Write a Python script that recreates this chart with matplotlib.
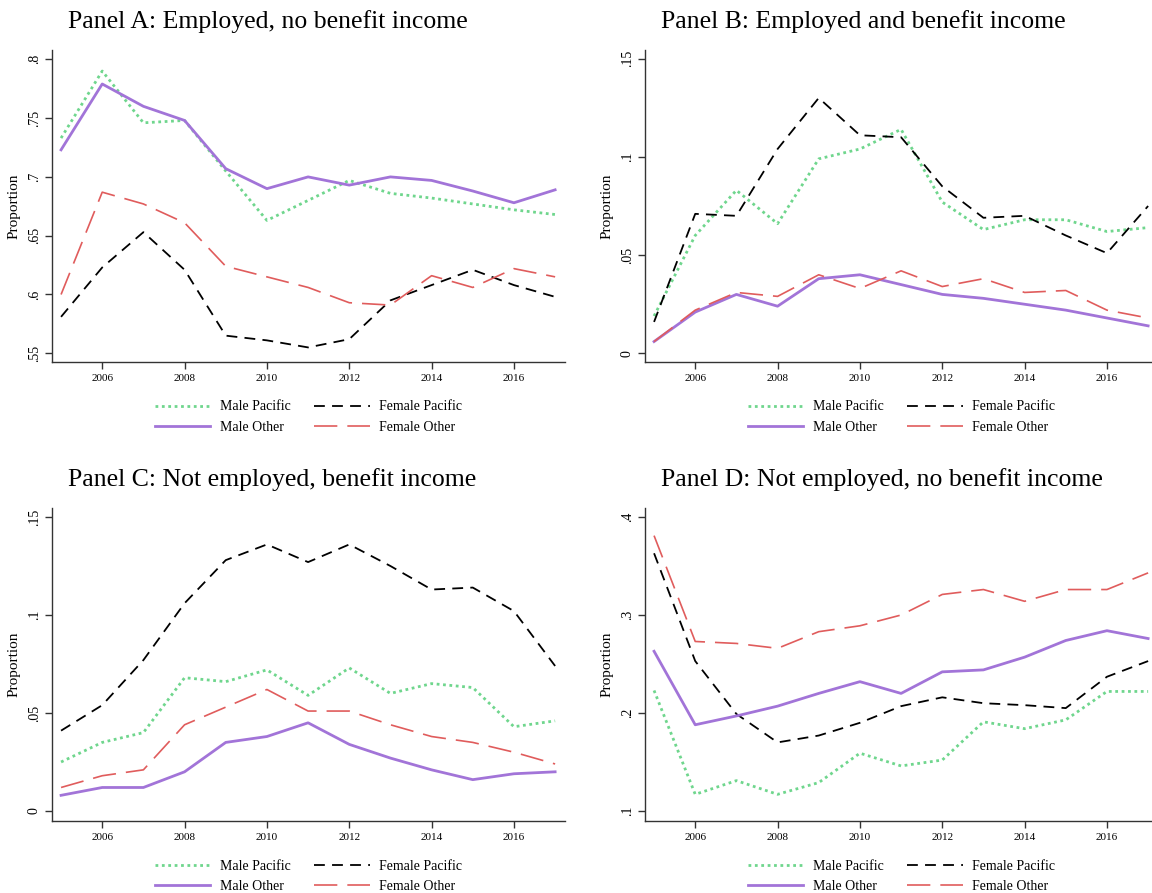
import numpy as np
import matplotlib
matplotlib.use("Agg")
import matplotlib.pyplot as plt

years = np.arange(2005, 2018)

# Panel A: Employed, no benefit income
a_male_pac = [0.733, 0.790, 0.746, 0.748, 0.705, 0.663, 0.680, 0.697, 0.686, 0.682, 0.677, 0.672, 0.668]
a_male_oth = [0.723, 0.779, 0.760, 0.748, 0.707, 0.690, 0.700, 0.693, 0.700, 0.697, 0.688, 0.678, 0.689]
a_fem_pac = [0.581, 0.623, 0.653, 0.621, 0.565, 0.561, 0.555, 0.562, 0.595, 0.608, 0.621, 0.608, 0.598]
a_fem_oth = [0.600, 0.687, 0.677, 0.661, 0.624, 0.615, 0.606, 0.593, 0.591, 0.616, 0.606, 0.622, 0.615]

# Panel B: Employed and benefit income
b_male_pac = [0.019, 0.060, 0.083, 0.066, 0.099, 0.104, 0.114, 0.077, 0.063, 0.068, 0.068, 0.062, 0.064]
b_male_oth = [0.006, 0.021, 0.030, 0.024, 0.038, 0.040, 0.035, 0.030, 0.028, 0.025, 0.022, 0.018, 0.014]
b_fem_pac = [0.016, 0.071, 0.070, 0.104, 0.130, 0.111, 0.110, 0.085, 0.069, 0.070, 0.060, 0.051, 0.075]
b_fem_oth = [0.006, 0.022, 0.031, 0.029, 0.040, 0.033, 0.042, 0.034, 0.038, 0.031, 0.032, 0.022, 0.018]

# Panel C: Not employed, benefit income
c_male_pac = [0.025, 0.035, 0.040, 0.068, 0.066, 0.072, 0.059, 0.073, 0.060, 0.065, 0.063, 0.043, 0.046]
c_male_oth = [0.008, 0.012, 0.012, 0.020, 0.035, 0.038, 0.045, 0.034, 0.027, 0.021, 0.016, 0.019, 0.020]
c_fem_pac = [0.041, 0.054, 0.077, 0.106, 0.128, 0.136, 0.127, 0.136, 0.125, 0.113, 0.114, 0.102, 0.074]
c_fem_oth = [0.012, 0.018, 0.021, 0.044, 0.053, 0.062, 0.051, 0.051, 0.044, 0.038, 0.035, 0.030, 0.024]

# Panel D: Not employed, no benefit income
d_male_pac = [0.223, 0.117, 0.131, 0.117, 0.129, 0.159, 0.146, 0.152, 0.191, 0.184, 0.193, 0.222, 0.222]
d_male_oth = [0.263, 0.188, 0.197, 0.207, 0.220, 0.232, 0.220, 0.242, 0.244, 0.257, 0.274, 0.284, 0.276]
d_fem_pac = [0.363, 0.253, 0.199, 0.170, 0.177, 0.190, 0.207, 0.216, 0.210, 0.208, 0.205, 0.237, 0.253]
d_fem_oth = [0.381, 0.273, 0.271, 0.266, 0.283, 0.289, 0.300, 0.321, 0.326, 0.314, 0.326, 0.326, 0.343]

titles = ["Panel A: Employed, no benefit income", "Panel B: Employed and benefit income",
          "Panel C: Not employed, benefit income", "Panel D: Not employed, no benefit income"]
panels = [
    (a_male_pac, a_fem_pac, a_male_oth, a_fem_oth),
    (b_male_pac, b_fem_pac, b_male_oth, b_fem_oth),
    (c_male_pac, c_fem_pac, c_male_oth, c_fem_oth),
    (d_male_pac, d_fem_pac, d_male_oth, d_fem_oth),
]
yticks = [[0.55, 0.6, 0.65, 0.7, 0.75, 0.8], [0, 0.05, 0.1, 0.15],
          [0, 0.05, 0.1, 0.15], [0.1, 0.2, 0.3, 0.4]]
ytick_labels = [[".55", ".6", ".65", ".7", ".75", ".8"], ["0", ".05", ".1", ".15"],
                ["0", ".05", ".1", ".15"], [".1", ".2", ".3", ".4"]]
ylims = [(0.5426, 0.8079), (-0.0044, 0.1544), (-0.0051, 0.1546), (0.0898, 0.4092)]

W, H = 1152, 893
# axes boxes in pixels: left, right, top, bottom
boxes = [(52, 565, 50, 362), (645, 1158, 50, 362), (52, 565, 508, 821), (645, 1158, 508, 821)]

plt.rcParams['font.family'] = ['Liberation Serif', 'DejaVu Serif']

fig = plt.figure(figsize=(W / 100, H / 100), dpi=100)

styles = [
    dict(color="#6fd68d", lw=2.0, ls=(0, (1, 1.3))),
    dict(color="black", lw=1.3, ls=(0, (6, 4))),
    dict(color="#a274d8", lw=2.0, ls="-"),
    dict(color="#e05c5c", lw=1.2, ls=(0, (14, 6))),
]
names = ["Male Pacific", "Female Pacific", "Male Other", "Female Other"]

for i, (l, r, t, b) in enumerate(boxes):
    ax = fig.add_axes([l / W, 1 - b / H, (r - l) / W, (b - t) / H])
    lines = []
    for series, st, nm in zip(panels[i], styles, names):
        ln, = ax.plot(years, series, label=nm, **st)
        lines.append(ln)
    ax.set_xlim(2004.78, 2017.24)
    ax.set_ylim(*ylims[i])
    ax.set_xticks([2006, 2008, 2010, 2012, 2014, 2016])
    ax.set_yticks(yticks[i])
    ax.set_yticklabels(ytick_labels[i], rotation=90, va="center")
    ax.tick_params(axis="both", length=5, width=1, color="#333333")
    ax.tick_params(axis="x", labelsize=8)
    ax.tick_params(axis="y", labelsize=10, pad=3)
    ax.spines["top"].set_visible(False)
    ax.spines["right"].set_visible(False)
    for s in ["left", "bottom"]:
        ax.spines[s].set_linewidth(1.0)
        ax.spines[s].set_color("#333333")
    ax.set_ylabel("Proportion", fontsize=11, labelpad=5)
    # legend order: row1 Male Pacific / Female Pacific, row2 Male Other / Female Other
    handles = [lines[0], lines[2], lines[1], lines[3]]
    ax.legend(handles, [h.get_label() for h in handles], ncol=2, frameon=False,
              loc="upper center", bbox_to_anchor=(0.5, -26 / (b - t)),
              fontsize=10, handlelength=4.0, handletextpad=0.7,
              columnspacing=1.7, labelspacing=0.55)
    fig.text((l + 16) / W, 1 - 22 / H if i < 2 else 1 - 480 / H, titles[i],
             fontsize=18.5, va="center", ha="left")

fig.savefig("out.png", dpi=100)
